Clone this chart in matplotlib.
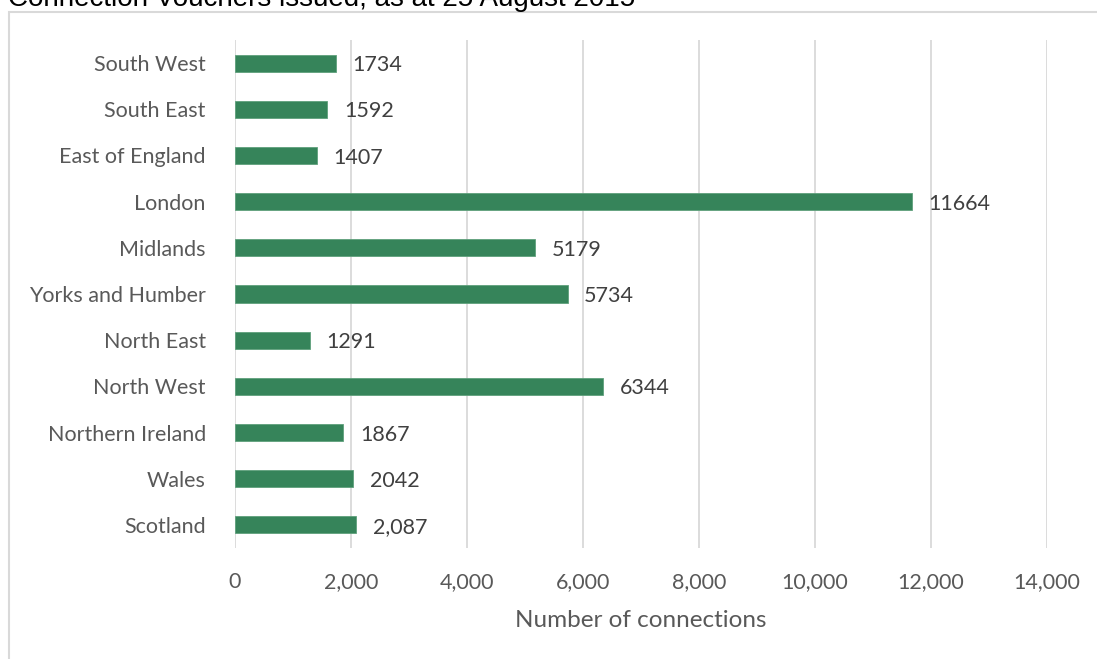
import matplotlib
matplotlib.use("Agg")
import matplotlib.pyplot as plt
from matplotlib.patches import Rectangle

regions = ["South West", "South East", "East of England", "London", "Midlands",
           "Yorks and Humber", "North East", "North West", "Northern Ireland",
           "Wales", "Scotland"]
values = [1734, 1592, 1407, 11664, 5179, 5734, 1291, 6344, 1867, 2042, 2087]
value_labels = ["1734", "1592", "1407", "11664", "5179", "5734", "1291", "6344",
                "1867", "2042", "2,087"]
x_ticks = [0, 2000, 4000, 6000, 8000, 10000, 12000, 14000]
x_tick_labels = ["0", "2,000", "4,000", "6,000", "8,000", "10,000", "12,000", "14,000"]
title = "Connection Vouchers issued, as at 25 August 2015"
x_label = "Number of connections"

W, H = 1097, 659
FONT = "Lato"
fig = plt.figure(figsize=(W / 100, H / 100), dpi=100)
fig.patch.set_facecolor("white")

# outer chart frame
fig.patches.append(Rectangle((8.5 / W, -0.1), 1.2, 1 - 11.5 / H + 0.1,
                             transform=fig.transFigure, fill=False,
                             edgecolor="#d9d9d9", linewidth=1.5))

fig.text(8 / W, 1 - 6 / H, title, fontsize=20, family="Liberation Sans",
         color="black", va="baseline", ha="left")

ax = fig.add_axes([235 / W, 1 - 548 / H, (1047 - 235) / W, (548 - 40) / H])
n = len(regions)
ypos = list(range(n))
ax.barh(ypos, values, height=0.37, color="#36845A", edgecolor="#5fa07c",
        linewidth=0.6, zorder=3)
ax.set_ylim(n - 0.5, -0.5)
ax.set_xlim(0, 14000)
ax.set_yticks(ypos)
ax.set_yticklabels(regions, fontsize=15.5, family=FONT, color="#595959")
ax.set_xticks(x_ticks)
ax.set_xticklabels(x_tick_labels, fontsize=15.5, family=FONT, color="#595959")
ax.tick_params(axis="both", length=0)
ax.tick_params(axis="y", pad=21)
ax.tick_params(axis="x", pad=17)
ax.grid(axis="x", color="#d9d9d9", linewidth=1.3, zorder=0)
for s in ax.spines.values():
    s.set_visible(False)
ax.set_xlabel(x_label, fontsize=17.5, family=FONT, color="#595959", labelpad=13)

for y, v, lab in zip(ypos, values, value_labels):
    ax.annotate(lab, (v, y), xytext=(12, -1.5), textcoords="offset points",
                va="center", ha="left", fontsize=15.5, family=FONT,
                color="#404040")

fig.savefig("out.png", dpi=100)
